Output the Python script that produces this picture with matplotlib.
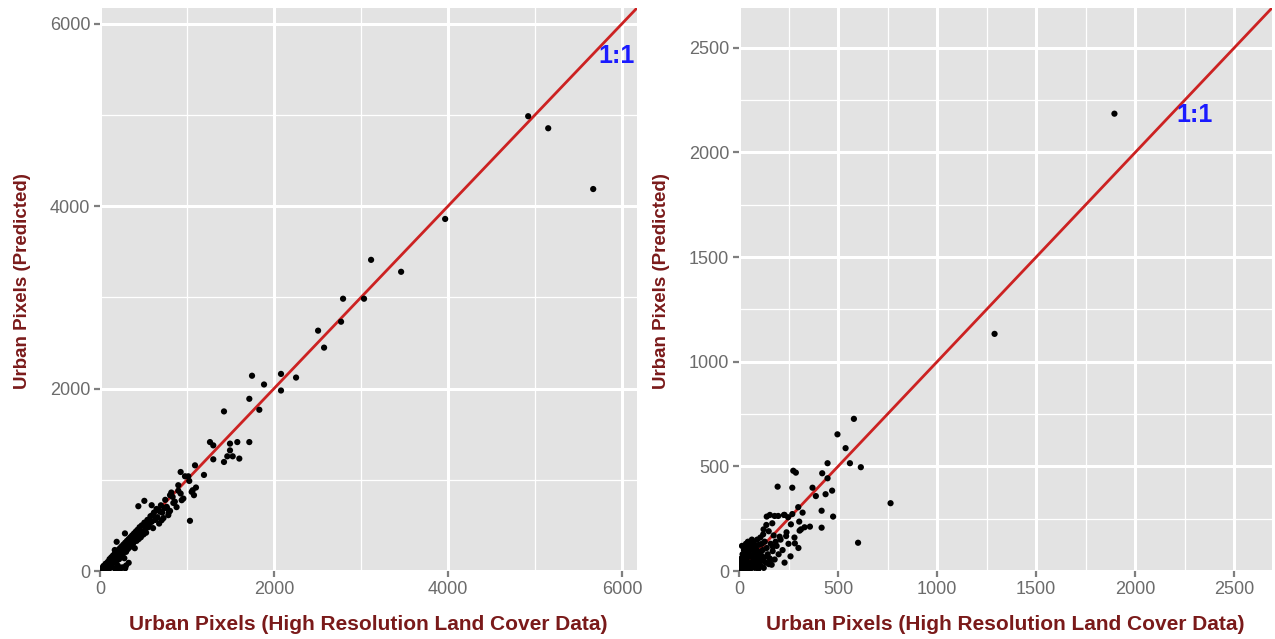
import matplotlib
matplotlib.use("Agg")
from matplotlib import pyplot as plt
from matplotlib.ticker import MultipleLocator

plt.rcParams["font.family"] = ["Liberation Sans", "DejaVu Sans"]

# left panel: observed (high resolution land cover) vs predicted urban pixels
left_obs = [
    4920, 5150, 5667, 3966, 3115, 3460, 2793, 3034, 2770, 2506, 2575, 2080, 2253, 2080,
    1885, 1831, 1716, 1747, 1425, 1264, 1302, 1494, 1578, 1716, 1494, 1463, 1525, 1601,
    1425, 1302, 1092, 1195, 927, 977, 1015, 1026, 900, 1103, 1065, 1080, 927, 939, 835,
    805, 843, 766, 805, 785, 1034, 510, 441, 594, 671, 958, 1054, 709, 287, 192,
    20, 35, 40, 50, 60, 65, 75, 80, 90, 95, 100, 110, 115, 120, 130, 135, 140, 150, 155,
    160, 170, 175, 180, 185, 190, 200, 205, 210, 215, 220, 230, 235, 240, 245, 250, 255,
    260, 270, 275, 280, 290, 295, 300, 310, 315, 320, 330, 335, 340, 350, 355, 360, 370,
    375, 380, 390, 395, 400, 410, 415, 420, 430, 440, 445, 455, 460, 470, 480, 490, 500,
    510, 520, 530, 545, 555, 570, 580, 595, 610, 620, 635, 650, 660, 680, 700, 715, 730,
    750, 770, 790, 820, 860, 880, 900, 230, 260, 290, 300, 330,
    140, 170, 200, 250, 320, 380, 430, 470, 540, 600, 640, 690, 740,
]
left_pred = [
    4984, 4852, 4186, 3858, 3410, 3279, 2984, 2984, 2732, 2634, 2448, 2160, 2120, 1978,
    2044, 1767, 1887, 2140, 1749, 1413, 1377, 1396, 1413, 1413, 1322, 1257, 1257, 1232,
    1195, 1224, 1158, 1053, 1085, 1038, 1038, 987, 940, 915, 885, 831, 849, 776, 812,
    831, 746, 703, 659, 612, 550, 769, 710, 721, 667, 794, 867, 557, 412, 320,
    30, 10, 55, 40, 20, 80, 60, 35, 100, 70, 15, 130, 90, 60, 150, 110, 40, 170, 125,
    90, 190, 140, 20, 110, 215, 160, 60, 230, 185, 130, 250, 200, 35, 160, 270, 220,
    180, 290, 240, 140, 310, 260, 210, 330, 280, 240, 350, 300, 260, 370, 320, 280, 390,
    335, 300, 410, 350, 250, 430, 370, 330, 450, 390, 350, 480, 410, 370, 500, 430, 400,
    530, 460, 420, 560, 480, 520, 600, 540, 470, 640, 560, 680, 590, 520, 720, 640, 580,
    780, 690, 640, 860, 760, 700, 880, 20, 40, 30, 60, 90,
    80, 230, 120, 200, 290, 330, 380, 420, 500, 610, 570, 650, 690,
]

# right panel
right_obs = [
    1895, 1290, 765, 601, 580, 497, 538, 447, 560, 615, 274, 287, 420, 447, 269, 195,
    371, 470, 388, 437, 299, 417, 321, 227, 248, 475, 417, 358, 304, 313, 282, 262, 198,
    156, 140, 180, 230, 269, 138, 124, 168, 306, 331, 205, 238, 185, 171, 158, 151,
    5, 8, 10, 12, 15, 18, 20, 22, 25, 28, 30, 32, 35, 38, 40, 42, 45, 48, 50, 52, 55,
    58, 60, 62, 65, 68, 70, 72, 75, 78, 80, 82, 85, 88, 90, 92, 95, 98, 100, 102, 105,
    108, 110, 112, 115, 118, 120, 122, 125, 128, 130, 135, 140, 145, 150, 155, 160, 165,
    170, 175, 180, 190, 200, 210, 220, 230, 240, 250, 260, 280, 300,
    15, 25, 35, 45, 55, 65, 75, 85, 95, 110,
]
right_pred = [
    2185, 1133, 324, 135, 727, 653, 587, 515, 515, 496, 479, 470, 467, 443, 398, 403,
    398, 384, 358, 367, 305, 288, 279, 268, 257, 260, 207, 212, 236, 199, 132, 223, 263,
    268, 260, 263, 268, 272, 220, 199, 228, 193, 209, 164, 167, 140, 116, 53, 33,
    5, 20, 40, 60, 10, 80, 30, 50, 5, 70, 95, 20, 45, 110, 60, 10, 85, 30, 120, 70, 5,
    100, 40, 130, 75, 20, 110, 55, 140, 90, 15, 60, 120, 35, 100, 150, 70, 10, 125, 45,
    90, 160, 25, 75, 130, 50, 100, 175, 15, 65, 140, 40, 110, 80, 190, 60, 130, 30,
    95, 170, 55, 120, 80, 150, 100, 40, 185, 130, 70, 160, 110,
    120, 100, 130, 140, 110, 150, 40, 90, 20, 55,
]

left_ticks = [0, 2000, 4000, 6000]
right_ticks = [0, 500, 1000, 1500, 2000, 2500]

TITLE_RED = "#7a1a1a"
TICK_GREY = "#6b6b6b"
PANEL_BG = "#e3e3e3"


def style_panel(ax, ticks, minor, lim):
    ax.set_facecolor(PANEL_BG)
    ax.set_xlim(0, lim)
    ax.set_ylim(0, lim)
    ax.set_xticks(ticks)
    ax.set_yticks(ticks)
    ax.xaxis.set_minor_locator(MultipleLocator(minor))
    ax.yaxis.set_minor_locator(MultipleLocator(minor))
    ax.grid(True, which="major", color="white", linewidth=2.2, zorder=0)
    ax.grid(True, which="minor", color="white", linewidth=0.9, zorder=0)
    ax.set_axisbelow(True)
    for side in ax.spines.values():
        side.set_visible(False)
    ax.tick_params(which="major", length=4, width=1.6, color="#7f7f7f",
                   labelsize=13, labelcolor=TICK_GREY, pad=3)
    ax.tick_params(which="minor", length=0)
    ax.set_xlabel("Urban Pixels (High Resolution Land Cover Data)",
                  fontsize=15, fontweight="bold", color=TITLE_RED)


fig = plt.figure(figsize=(12.75, 6.39), dpi=100)
ax_left = fig.add_axes([0.0784, 0.1064, 0.4212, 0.8811])
ax_right = fig.add_axes([0.5796, 0.1064, 0.4180, 0.8811])

style_panel(ax_left, left_ticks, 1000, 6170)
ax_left.plot([0, 6170], [0, 6170], color="#cc2222", linewidth=2.0, zorder=2)
ax_left.scatter(left_obs, left_pred, s=20, color="black", edgecolors="none", zorder=3)
ax_left.text(5940, 5640, "1:1", color="#1a1aff", fontsize=18, fontweight="bold",
             ha="center", va="center", zorder=4)
ax_left.xaxis.set_label_coords(0.5, -0.078)

style_panel(ax_right, right_ticks, 250, 2690)
ax_right.plot([0, 2690], [0, 2690], color="#cc2222", linewidth=2.0, zorder=2)
ax_right.scatter(right_obs, right_pred, s=20, color="black", edgecolors="none", zorder=3)
ax_right.text(2300, 2180, "1:1", color="#1a1aff", fontsize=18, fontweight="bold",
              ha="center", va="center", zorder=4)
ax_right.xaxis.set_label_coords(0.5, -0.078)

for x_pos in (0.0173, 0.5185):
    fig.text(x_pos, 0.56, "Urban Pixels (Predicted)", rotation=90, ha="center",
             va="center", fontsize=13.5, fontweight="bold", color=TITLE_RED)

fig.savefig("out.png", dpi=100, facecolor="white")
